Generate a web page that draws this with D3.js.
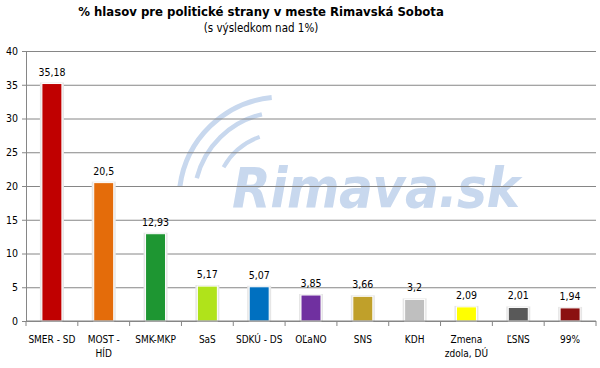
<!DOCTYPE html>
<html>
<head>
<meta charset="utf-8">
<script src="https://cdn.jsdelivr.net/npm/d3@7"></script>
<style>
  body { margin: 0; background: #fff; }
  text { font-family: Tahoma, "DejaVu Sans Condensed", "DejaVu Sans", sans-serif; }
</style>
</head>
<body>
<svg width="600" height="368"></svg>
<script>
// dáta z grafu
var strany = ["SMER - SD", "MOST - HÍD", "SMK-MKP", "SaS", "SDKÚ - DS", "OĽaNO", "SNS", "KDH", "Zmena zdola, DÚ", "ĽSNS", "99%"];
var hodnoty = [35.18, 20.5, 12.93, 5.17, 5.07, 3.85, 3.66, 3.2, 2.09, 2.01, 1.94];
var popisy = ["35,18", "20,5", "12,93", "5,17", "5,07", "3,85", "3,66", "3,2", "2,09", "2,01", "1,94"];
var farby = ["#c00000", "#e46c0a", "#1e9632", "#b0e31a", "#0070c0", "#7030a0", "#c0a02a", "#bfbfbf", "#ffff00", "#595959", "#8b1111"];
var yTicks = [0, 5, 10, 15, 20, 25, 30, 35, 40];

var svg = d3.select("svg");
var mLeft = 26, mRight = 596, mTop = 51, mBottom = 321;

var x = d3.scaleBand().domain(strany).range([mLeft, mRight]);
var y = d3.scaleLinear().domain([0, 40]).range([mBottom, mTop]);

// nadpis
svg.append("text")
  .attr("x", 261).attr("y", 16)
  .attr("text-anchor", "middle")
  .attr("font-size", 13).attr("font-weight", "bold")
  .text("% hlasov pre politické strany v meste Rimavská Sobota");
svg.append("text")
  .attr("x", 261).attr("y", 32)
  .attr("text-anchor", "middle")
  .attr("font-size", 11.5)
  .text("(s výsledkom nad 1%)");

// vodoznak
var wm = svg.append("g").attr("fill", "none").attr("stroke", "#c8d8ee").attr("stroke-linecap", "round");
var cx = 282, cy = 200;
[[103, 5, -1.44, -0.1], [88, 4.5, -1.32, -0.23], [67, 4, -1.06, -0.34]].forEach(function(a) {
  var arc = d3.arc().innerRadius(a[0]).outerRadius(a[0]).startAngle(a[2]).endAngle(a[3]);
  wm.append("path")
    .attr("transform", "translate(" + cx + "," + cy + ")")
    .attr("d", arc())
    .attr("stroke-width", a[1]);
});
svg.append("text")
  .attr("x", 232).attr("y", 207)
  .attr("font-family", "'DejaVu Sans', sans-serif")
  .attr("font-size", 56).attr("font-weight", "bold").attr("font-style", "italic")
  .attr("fill", "#c8d8ee")
  .attr("textLength", 288)
  .text("Rimava.sk");

// mriežka
svg.append("g")
  .attr("transform", "translate(" + mLeft + ",0)")
  .call(d3.axisLeft(y).tickValues(yTicks).tickSize(-(mRight - mLeft)).tickPadding(8))
  .call(function(g) {
    g.select(".domain").attr("stroke", "#868686");
    g.selectAll(".tick line").attr("stroke", "#868686").attr("x1", -4);
    g.selectAll(".tick text").attr("font-size", 10.5).attr("fill", "#000")
      .attr("font-family", "Tahoma, 'DejaVu Sans Condensed', sans-serif");
  });

// stĺpce
var bw = 20;
var bars = svg.append("g").selectAll("g").data(strany).enter().append("g");
bars.append("rect")
  .attr("x", function(d) { return x(d) + x.bandwidth() / 2 - bw / 2 - 2; })
  .attr("y", function(d, i) { return y(hodnoty[i]) - 1; })
  .attr("width", bw + 4)
  .attr("height", function(d, i) { return mBottom - y(hodnoty[i]) + 1; })
  .attr("fill", "#e6e6e6");
bars.append("rect")
  .attr("x", function(d) { return x(d) + x.bandwidth() / 2 - bw / 2; })
  .attr("y", function(d, i) { return y(hodnoty[i]); })
  .attr("width", bw)
  .attr("height", function(d, i) { return mBottom - y(hodnoty[i]); })
  .attr("fill", function(d, i) { return farby[i]; })
  .attr("stroke", "#fff").attr("stroke-width", 1);
bars.append("text")
  .attr("x", function(d) { return x(d) + x.bandwidth() / 2; })
  .attr("y", function(d, i) { return y(hodnoty[i]) - 8; })
  .attr("text-anchor", "middle")
  .attr("font-size", 10.5)
  .text(function(d, i) { return popisy[i]; });

// os x
svg.append("line")
  .attr("x1", mLeft).attr("x2", mRight).attr("y1", mBottom).attr("y2", mBottom)
  .attr("stroke", "#868686");
svg.append("g").selectAll("line").data(strany.concat(["_end"])).enter().append("line")
  .attr("x1", function(d, i) { return mLeft + i * x.step(); })
  .attr("x2", function(d, i) { return mLeft + i * x.step(); })
  .attr("y1", mBottom).attr("y2", mBottom + 5)
  .attr("stroke", "#868686");

var lbl = svg.append("g").selectAll("text").data(strany).enter().append("text")
  .attr("x", function(d) { return x(d) + x.bandwidth() / 2; })
  .attr("y", 343)
  .attr("text-anchor", "middle")
  .attr("font-size", 10);
var zalomenia = { "MOST - HÍD": ["MOST -", "HÍD"], "Zmena zdola, DÚ": ["Zmena", "zdola, DÚ"] };
lbl.each(function(d) {
  var lines = zalomenia[d] || [d];
  var t = d3.select(this);
  lines.forEach(function(l, k) {
    t.append("tspan").attr("x", t.attr("x")).attr("dy", k ? 14 : 0).text(l);
  });
});
</script>
</body>
</html>
